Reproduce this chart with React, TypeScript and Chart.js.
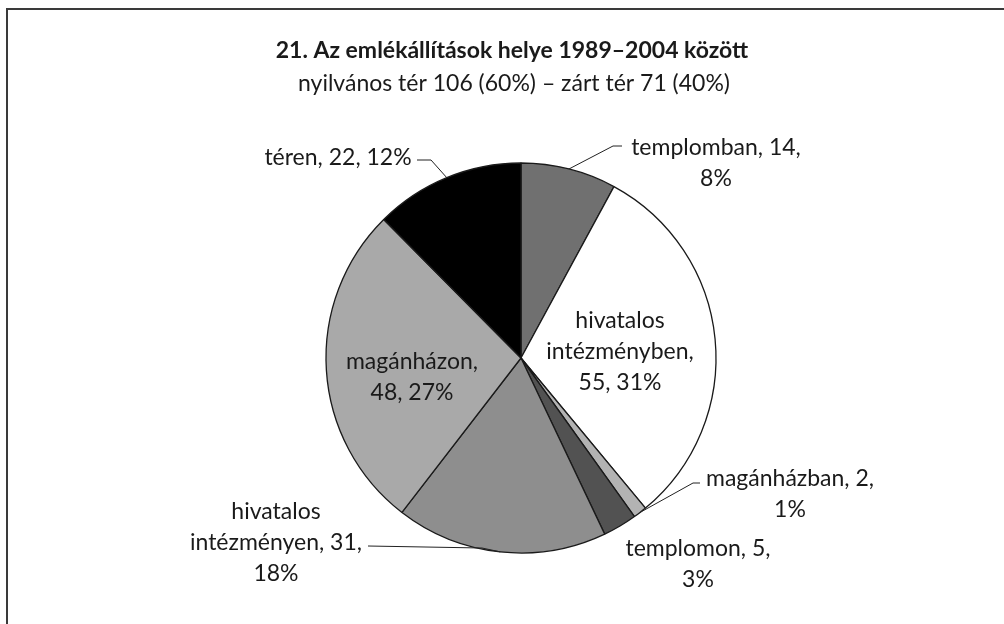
import React, { useEffect, useRef } from "react";
import { Chart, registerables } from "chart.js";

Chart.register(...registerables);

// ---- data ----
const categories = [
  "templomban",
  "hivatalos intézményben",
  "magánházban",
  "templomon",
  "hivatalos intézményen",
  "magánházon",
  "téren",
];
const values = [14, 55, 2, 5, 31, 48, 22];
const percents = [8, 31, 1, 3, 18, 27, 12];
const sliceColors = ["#707070", "#ffffff", "#b3b3b3", "#525252", "#8e8e8e", "#a9a9a9", "#000000"];
const titleText = "21. Az emlékállítások helye 1989–2004 között";
const subtitleText = "nyilvános tér 106 (60%) – zárt tér 71 (40%)";

// ---- label text builders ----
function labelLines(i: number): string[] {
  const c = categories[i];
  const v = values[i];
  const p = percents[i];
  switch (i) {
    case 1:
      return ["hivatalos", "intézményben,", `${v}, ${p}%`];
    case 4:
      return ["hivatalos", `intézményen, ${v},`, `${p}%`];
    case 5:
      return [`${c},`, `${v}, ${p}%`];
    case 6:
      return [`${c}, ${v}, ${p}%`];
    default:
      return [`${c}, ${v},`, `${p}%`];
  }
}

// label layout: block center x, first line center y, optional leader (elbow + end)
const labelLayout: { x: number; y: number; elbow?: [number, number]; end?: [number, number] }[] = [
  { x: 716, y: 148, elbow: [613, 146], end: [622, 146] },
  { x: 620, y: 321 },
  { x: 790, y: 479, elbow: [693, 483], end: [700, 483] },
  { x: 698, y: 549 },
  { x: 276, y: 512, elbow: [482, 548], end: [368, 546] },
  { x: 412, y: 362 },
  { x: 338, y: 158, elbow: [431, 160], end: [417, 160] },
];

const FONT = "Lato, 'Open Sans', sans-serif";
const LINE_H = 31;

const decorPlugin = {
  id: "decor",
  beforeDraw(chart: any) {
    const ctx = chart.ctx;
    ctx.save();
    ctx.fillStyle = "#ffffff";
    ctx.fillRect(0, 0, chart.width, chart.height);
    ctx.strokeStyle = "#3a3a3a";
    ctx.lineWidth = 2;
    ctx.beginPath();
    ctx.moveTo(7, 624);
    ctx.lineTo(7, 9);
    ctx.lineTo(1004, 9);
    ctx.stroke();
    ctx.restore();
  },
  afterDraw(chart: any) {
    const ctx = chart.ctx;
    ctx.save();
    ctx.fillStyle = "#1a1a1a";
    ctx.textAlign = "center";
    ctx.textBaseline = "middle";
    ctx.font = `bold 23px ${FONT}`;
    ctx.fillText(titleText, 512, 51);
    ctx.font = `23px ${FONT}`;
    ctx.fillText(subtitleText, 514, 84);

    const meta = chart.getDatasetMeta(0);
    ctx.font = `23px ${FONT}`;
    meta.data.forEach((arc: any, i: number) => {
      const lay = labelLayout[i];
      const lines = labelLines(i);
      ctx.fillStyle = "#1a1a1a";
      lines.forEach((ln, k) => ctx.fillText(ln, lay.x, lay.y + k * LINE_H));
      if (lay.elbow && lay.end) {
        const { x, y, startAngle, endAngle, outerRadius } = arc.getProps(
          ["x", "y", "startAngle", "endAngle", "outerRadius"],
          true
        );
        const mid = (startAngle + endAngle) / 2;
        const sx = x + Math.cos(mid) * outerRadius;
        const sy = y + Math.sin(mid) * outerRadius;
        ctx.strokeStyle = "#222";
        ctx.lineWidth = 1;
        ctx.beginPath();
        ctx.moveTo(sx, sy);
        ctx.lineTo(lay.elbow[0], lay.elbow[1]);
        ctx.lineTo(lay.end[0], lay.end[1]);
        ctx.stroke();
      }
    });
    ctx.restore();
  },
};

export default function App() {
  const ref = useRef<HTMLCanvasElement | null>(null);
  useEffect(() => {
    if (!ref.current) return;
    const chart = new Chart(ref.current, {
      type: "pie",
      data: {
        labels: categories,
        datasets: [
          {
            data: values,
            backgroundColor: sliceColors,
            borderColor: "#1a1a1a",
            borderWidth: 1.3,
          },
        ],
      },
      options: {
        animation: false,
        responsive: false,
        devicePixelRatio: 1,
        radius: 195,
        layout: { padding: { left: 100, right: 62, top: 140, bottom: 48 } },
        plugins: {
          legend: { display: false },
          tooltip: { enabled: false },
          title: { display: false },
        },
      } as any,
      plugins: [decorPlugin],
    });
    return () => chart.destroy();
  }, []);
  return (
    <div style={{ position: "fixed", left: 0, top: 0, width: 1004, height: 624, background: "#fff" }}>
      <canvas ref={ref} width={1004} height={624} style={{ width: 1004, height: 624, display: "block" }} />
    </div>
  );
}
